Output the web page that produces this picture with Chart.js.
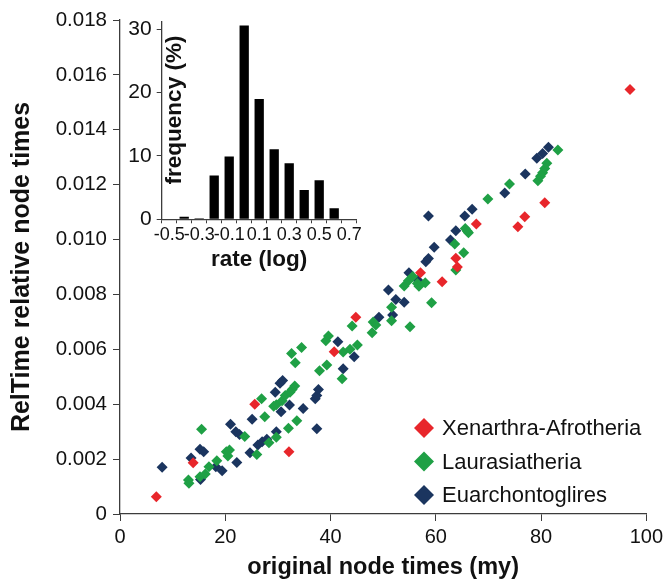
<!DOCTYPE html>
<html lang="en">
<head>
<meta charset="UTF-8">
<title>RelTime relative node times vs original node times</title>
<script src="https://cdn.jsdelivr.net/npm/chart.js"></script>
<style>
  body { margin: 0; background: #fff; }
  .wrap { position: relative; width: 667px; height: 582px; }
  #mainChart { position: absolute; left: 0; top: 0; }
  #rateChart { position: absolute; left: 100px; top: 0; }
</style>
</head>
<body>
<div class="wrap">
  <canvas id="mainChart" width="667" height="582"></canvas>
  <canvas id="rateChart" width="270" height="285"></canvas>
</div>
<script>
// [original node time (my), RelTime relative node time]
const xenarthraAfrotheria = [
  [6.9, 0.00063], [13.9, 0.00187], [25.6, 0.0040], [32.1, 0.00227], [40.7, 0.00591],
  [44.8, 0.00717], [57.1, 0.00879], [61.2, 0.00846], [63.8, 0.00932], [64.1, 0.0090],
  [67.7, 0.01057], [75.6, 0.01047], [76.9, 0.01083], [80.7, 0.01134], [96.9, 0.01547]
];
const laurasiatheria = [
  [13.0, 0.00124], [13.1, 0.00112], [15.2, 0.00136], [15.5, 0.00309], [16.2, 0.00146],
  [16.9, 0.00172], [18.4, 0.00194], [20.2, 0.00227], [20.5, 0.00211], [20.8, 0.00233],
  [23.7, 0.00282], [26.0, 0.00217], [26.9, 0.0042], [27.5, 0.00354], [28.3, 0.0026],
  [29.2, 0.00393], [29.7, 0.00398], [29.7, 0.0028], [30.8, 0.00413], [31.4, 0.00432],
  [32.0, 0.00312], [32.3, 0.00444], [32.6, 0.00585], [32.7, 0.00454], [33.2, 0.00466],
  [33.3, 0.00551], [33.6, 0.0034], [34.5, 0.00607], [37.9, 0.00522], [39.1, 0.00631],
  [39.3, 0.00543], [39.6, 0.00649], [42.2, 0.00493], [42.4, 0.0059], [43.7, 0.006],
  [44.1, 0.00685], [45.1, 0.00616], [47.9, 0.0066], [48.1, 0.0070], [48.6, 0.00689],
  [51.6, 0.00704], [51.6, 0.00753], [54.0, 0.00831], [54.8, 0.0085], [55.1, 0.00682],
  [55.6, 0.00865], [56.5, 0.0084], [56.8, 0.0083], [58.0, 0.00843], [59.2, 0.0077],
  [63.6, 0.00984], [63.8, 0.00889], [65.3, 0.00952], [65.6, 0.0104], [66.0, 0.0103],
  [66.2, 0.01025], [69.9, 0.01148], [74.0, 0.01202], [79.4, 0.01214], [79.9, 0.01231],
  [80.3, 0.01243], [80.7, 0.01259], [81.1, 0.01278], [83.2, 0.01326]
];
const euarchontoglires = [
  [8.0, 0.0017], [13.5, 0.00204], [15.2, 0.00236], [15.3, 0.00126], [15.9, 0.00227],
  [18.2, 0.00172], [19.4, 0.00158], [21.0, 0.00327], [22.0, 0.0030], [22.2, 0.00188],
  [22.7, 0.0029], [24.7, 0.00223], [25.1, 0.00345], [26.2, 0.00251], [27.0, 0.00263],
  [27.9, 0.00272], [29.5, 0.00444], [29.7, 0.0030], [30.4, 0.00476], [30.6, 0.00373],
  [30.9, 0.00486], [32.2, 0.00397], [34.8, 0.00384], [37.1, 0.0042], [37.4, 0.00432],
  [37.4, 0.00311], [37.7, 0.00454], [41.4, 0.00628], [42.4, 0.00529], [44.5, 0.00573],
  [49.2, 0.00717], [51.0, 0.00816], [51.8, 0.00725], [52.4, 0.00782], [54.0, 0.00772],
  [54.9, 0.00879], [56.6, 0.00852], [58.1, 0.00919], [58.6, 0.00931], [58.6, 0.01086],
  [59.7, 0.00972], [62.8, 0.00998], [63.8, 0.01032], [65.5, 0.01086], [66.9, 0.0111],
  [73.1, 0.0117], [77.0, 0.01239], [79.2, 0.01296], [80.3, 0.01314], [81.4, 0.01336]
];

// inset histogram
const rateBins = ['-0.5', '-0.4', '-0.3', '-0.2', '-0.1', '0', '0.1', '0.2', '0.3', '0.4', '0.5', '0.6', '0.7'];
const rateFreq = [0, 0.4, 0.15, 6.9, 9.9, 30.6, 19.0, 11.05, 8.84, 4.63, 6.16, 1.74, 0];

const FONT = 'Arial, "Liberation Sans", sans-serif';
const NARROW = '"Liberation Sans Narrow", "Arial Narrow", Arial, sans-serif';
const TEXT = '#111';
const AXIS = '#3c3c3c';

function toPoints(arr) {
  return arr.map(p => ({ x: p[0], y: p[1] }));
}

function series(label, arr, color) {
  return {
    label: label,
    data: toPoints(arr),
    pointStyle: 'rectRot',
    pointRadius: 5.5,
    pointBackgroundColor: color,
    pointBorderWidth: 0,
    backgroundColor: color,
    showLine: false
  };
}

// legend in the lower right of the plot
const cornerLegend = {
  id: 'cornerLegend',
  afterDraw(chart) {
    const ctx = chart.ctx;
    ctx.save();
    chart.data.datasets.forEach((ds, i) => {
      const cy = 428 + i * 33.5;
      const cx = 424;
      ctx.fillStyle = ds.backgroundColor;
      ctx.beginPath();
      ctx.moveTo(cx, cy - 10);
      ctx.lineTo(cx + 10, cy);
      ctx.lineTo(cx, cy + 10);
      ctx.lineTo(cx - 10, cy);
      ctx.closePath();
      ctx.fill();
      ctx.fillStyle = TEXT;
      ctx.font = '22px ' + FONT;
      ctx.textAlign = 'left';
      ctx.textBaseline = 'middle';
      ctx.fillText(ds.label, 442, cy + 1);
    });
    ctx.restore();
  }
};

new Chart(document.getElementById('mainChart'), {
  type: 'scatter',
  data: {
    datasets: [
      series('Xenarthra-Afrotheria', xenarthraAfrotheria, '#e8262b'),
      series('Laurasiatheria', laurasiatheria, '#1fa045'),
      series('Euarchontoglires', euarchontoglires, '#1b355f')
    ]
  },
  options: {
    responsive: false,
    animation: false,
    layout: { padding: { top: 20, right: 19, left: 0, bottom: 0 } },
    plugins: { legend: { display: false }, tooltip: { enabled: false } },
    scales: {
      x: {
        type: 'linear',
        min: 0,
        max: 100,
        ticks: { stepSize: 20, color: TEXT, font: { family: FONT, size: 20 }, padding: 4 },
        grid: { drawOnChartArea: false, tickLength: 7, color: AXIS },
        border: { color: AXIS, width: 1.3 },
        title: {
          display: true,
          text: 'original node times (my)',
          color: TEXT,
          font: { family: FONT, size: 23.5, weight: 'bold' },
          padding: { top: 0, bottom: 0 }
        },
        afterFit(s) { s.height = 68; }
      },
      y: {
        min: 0,
        max: 0.018,
        ticks: {
          stepSize: 0.002,
          color: TEXT,
          font: { family: FONT, size: 20.5 },
          padding: 6,
          callback: v => (v === 0 ? '0' : v.toFixed(3))
        },
        grid: { drawOnChartArea: false, tickLength: 7, color: AXIS },
        border: { color: AXIS, width: 1.3 },
        title: {
          display: true,
          text: 'RelTime relative node times',
          color: TEXT,
          font: { family: FONT, size: 25, weight: 'bold' },
          padding: { top: 7, bottom: 0 }
        },
        afterFit(s) { s.width = 120; }
      }
    }
  },
  plugins: [cornerLegend]
});

// y title of the inset sits inside, right of its axis
const freqTitle = {
  id: 'freqTitle',
  afterDraw(chart) {
    const ctx = chart.ctx;
    ctx.save();
    ctx.translate(chart.chartArea.left + 13.5, 110);
    ctx.rotate(-Math.PI / 2);
    ctx.fillStyle = TEXT;
    ctx.font = 'bold 22.5px ' + FONT;
    ctx.textAlign = 'center';
    ctx.textBaseline = 'middle';
    ctx.fillText('frequency (%)', 0, 0);
    ctx.restore();
  }
};

new Chart(document.getElementById('rateChart'), {
  type: 'bar',
  data: {
    labels: rateBins,
    datasets: [{
      data: rateFreq,
      backgroundColor: '#000',
      barPercentage: 0.62,
      categoryPercentage: 1
    }]
  },
  options: {
    responsive: false,
    animation: false,
    layout: { padding: { top: 21.7, right: 13.3, left: 0, bottom: 0 } },
    plugins: { legend: { display: false }, tooltip: { enabled: false } },
    scales: {
      x: {
        grid: { drawOnChartArea: false, tickLength: 4, color: AXIS, offset: true },
        border: { color: AXIS, width: 1.3 },
        ticks: {
          autoSkip: false,
          maxRotation: 0,
          padding: 1,
          color: TEXT,
          font: { family: NARROW, size: 18 },
          callback(v, i) { return i % 2 === 0 ? this.getLabelForValue(v) : ''; }
        },
        title: {
          display: true,
          text: 'rate (log)',
          color: TEXT,
          font: { family: FONT, size: 22.5, weight: 'bold' },
          padding: { top: 0, bottom: 12 }
        },
        afterFit(s) { s.height = 65.7; }
      },
      y: {
        min: 0,
        max: 31.2,
        ticks: { stepSize: 10, includeBounds: false, color: TEXT, font: { family: FONT, size: 21 }, padding: 5 },
        grid: { drawOnChartArea: false, tickLength: 5, color: AXIS },
        border: { color: AXIS, width: 1.3 },
        afterFit(s) { s.width = 61.7; }
      }
    }
  },
  plugins: [freqTitle]
});
</script>
</body>
</html>
